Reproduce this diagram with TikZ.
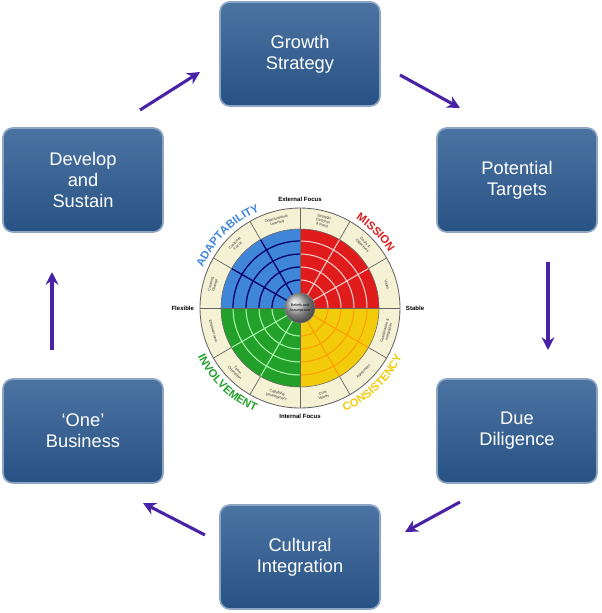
\documentclass[tikz,border=0pt]{standalone}
\usepackage{fontspec}
\setmainfont{Liberation Sans}
\usetikzlibrary{decorations.text,arrows.meta}
\definecolor{boxblue}{HTML}{2C5B92}
\definecolor{arrowpurple}{HTML}{4A22A6}
\definecolor{mred}{HTML}{E01B1B}
\definecolor{mblue}{HTML}{3F86D9}
\definecolor{mgreen}{HTML}{22A02A}
\definecolor{myellow}{HTML}{F2CB0A}
\definecolor{beige}{HTML}{F4F1D4}
\tikzset{
  stepbox/.style={draw=boxblue!55!white, line width=1.2pt, rounded corners=7pt,
    top color=boxblue!85!white, bottom color=boxblue!90!black, text=white,
    minimum width=160*0.025cm, minimum height=104*0.025cm, align=center,
    font=\fontsize{13}{15}\selectfont},
  flow/.style={arrowpurple, line width=2.2pt, -{Stealth[length=9pt,width=9pt]}},
  seglabel/.style={font=\fontsize{2.6}{3}\selectfont, align=center, text=black!80},
  axislabel/.style={font=\bfseries\fontsize{4.3}{5}\selectfont}
}
\begin{document}
\begin{tikzpicture}[x=0.025cm,y=0.025cm]
	\useasboundingbox (0,0) rectangle (602,-613);
	% boxes
	\node[stepbox] (growth) at (300,-54) {Growth\\Strategy};
	\node[stepbox] (targets) at (517,-180) {Potential\\Targets};
	\node[stepbox] (diligence) at (517,-431) {Due\\Diligence};
	\node[stepbox] (cultural) at (300,-557) {Cultural\\Integration};
	\node[stepbox] (one) at (83,-431) {`One'\\Business};
	\node[stepbox] (develop) at (83,-180) {Develop\\and\\Sustain};
	% arrow ends
	\coordinate (a1) at (400,-75);  \coordinate (b1) at (460,-108);
	\coordinate (a2) at (548,-262); \coordinate (b2) at (548,-350);
	\coordinate (a3) at (460,-502); \coordinate (b3) at (405,-532);
	\coordinate (a4) at (205,-535); \coordinate (b4) at (143,-503);
	\coordinate (a5) at (52,-350);  \coordinate (b5) at (52,-272);
	\coordinate (a6) at (140,-110); \coordinate (b6) at (200,-72);
	\foreach \i in {1,...,6} \draw[flow] (a\i) -- (b\i);
	% wheel
	\begin{scope}[shift={(300,-308)}]
		\fill[beige, draw=black!60, line width=0.6pt] (0,0) circle[radius=100];
		\foreach \a in {0,30,...,330} \draw[black!60, line width=0.5pt] (\a:79) -- (\a:100);
		\fill[mred] (0,0) -- (0:79) arc[start angle=0,end angle=90,radius=79] -- cycle;
		\fill[mblue] (0,0) -- (90:79) arc[start angle=90,end angle=180,radius=79] -- cycle;
		\fill[mgreen] (0,0) -- (180:79) arc[start angle=180,end angle=270,radius=79] -- cycle;
		\fill[myellow] (0,0) -- (270:79) arc[start angle=270,end angle=360,radius=79] -- cycle;
		\foreach \r in {28,41,54,67} {
			\draw[white!85!red, line width=0.7pt] (0:\r) arc[start angle=0,end angle=90,radius=\r];
			\draw[blue!40!black, line width=0.9pt] (90:\r) arc[start angle=90,end angle=180,radius=\r];
			\draw[white!70!green, line width=0.7pt] (180:\r) arc[start angle=180,end angle=270,radius=\r];
			\draw[orange!80!yellow, line width=0.7pt] (270:\r) arc[start angle=270,end angle=360,radius=\r];
		}
		\foreach \a in {30,60} \draw[white!85!red, line width=0.7pt] (\a:15) -- (\a:79);
		\foreach \a in {120,150} \draw[blue!40!black, line width=0.9pt] (\a:15) -- (\a:79);
		\foreach \a in {210,240} \draw[white!70!green, line width=0.7pt] (\a:15) -- (\a:79);
		\foreach \a in {300,330} \draw[orange!80!yellow, line width=0.7pt] (\a:15) -- (\a:79);
		\draw[black!60, line width=0.6pt] (-100,0) -- (100,0) (0,-100) -- (0,100);
		\draw[black!60, line width=0.4pt] (0,0) circle[radius=79];
		\node[circle, minimum size=30*0.025cm, ball color=black!30, draw=black!50,
			font=\fontsize{2.6}{3}\selectfont, align=center, inner sep=0pt] (core) at (0,0) {Beliefs and\\Assumptions};
		% segment labels
		\node[seglabel, rotate=-15] (s1) at (75:90) {Strategic\\Direction\\\& Intent};
		\node[seglabel, rotate=-45] (s2) at (45:90) {Goals \&\\Objectives};
		\node[seglabel, rotate=-75] (s3) at (15:90) {Vision};
		\node[seglabel, rotate=75] (s4) at (-15:90) {Coordination \&\\Integration};
		\node[seglabel, rotate=45] (s5) at (-45:90) {Agreement};
		\node[seglabel, rotate=15] (s6) at (-75:90) {Core\\Values};
		\node[seglabel, rotate=-15] (s7) at (255:90) {Capability\\Development};
		\node[seglabel, rotate=-45] (s8) at (225:90) {Team\\Orientation};
		\node[seglabel, rotate=-75] (s9) at (195:90) {Empowerment};
		\node[seglabel, rotate=75] (s10) at (165:90) {Creating\\Change};
		\node[seglabel, rotate=45] (s11) at (135:90) {Customer\\Focus};
		\node[seglabel, rotate=15] (s12) at (105:90) {Organizational\\Learning};
		% axis labels
		\node[axislabel, above] (ext) at (0,101) {External Focus};
		\node[axislabel, below] (int) at (0,-101) {Internal Focus};
		\node[axislabel, left] (flex) at (-101,0) {Flexible};
		\node[axislabel, right] (stab) at (101,0) {Stable};
		% trait names
		\path[decorate, decoration={text along path, text align=center,
			text={|\bfseries\fontsize{8}{9}\selectfont\color{mblue}|ADAPTABILITY}}]
			(170:105) arc[start angle=170,end angle=100,radius=105];
		\path[decorate, decoration={text along path, text align=center,
			text={|\bfseries\fontsize{8}{9}\selectfont\color{mred}|MISSION}}]
			(75:105) arc[start angle=75,end angle=15,radius=105];
		\path[decorate, decoration={text along path, text align=center,
			text={|\bfseries\fontsize{8}{9}\selectfont\color{mgreen}|INVOLVEMENT}}]
			(190:113) arc[start angle=190,end angle=262,radius=113];
		\path[decorate, decoration={text along path, text align=center,
			text={|\bfseries\fontsize{8}{9}\selectfont\color{myellow}|CONSISTENCY}}]
			(278:113) arc[start angle=278,end angle=350,radius=113];
	\end{scope}
\end{tikzpicture}
\end{document}
